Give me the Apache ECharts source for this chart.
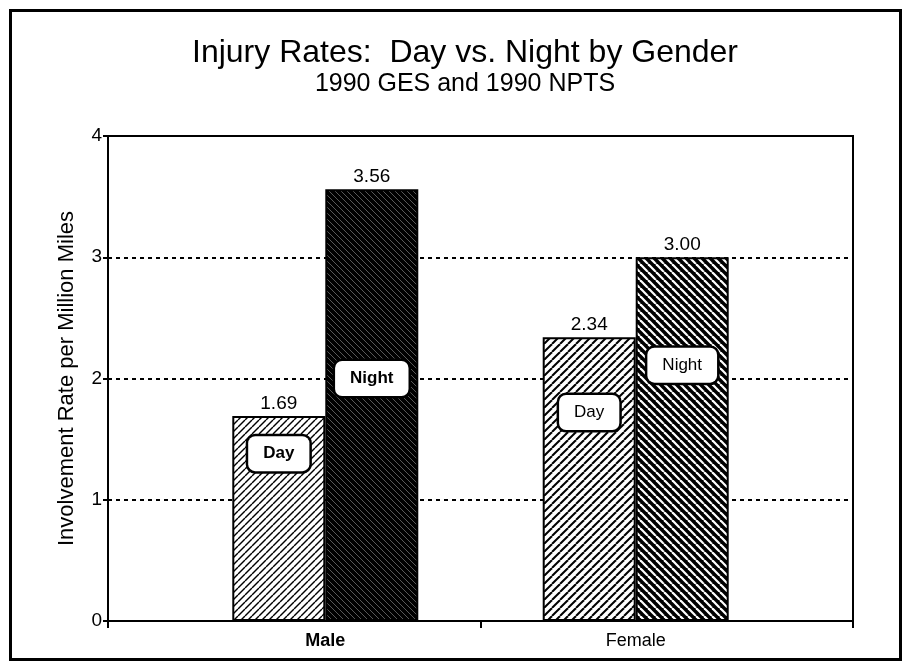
<!DOCTYPE html>
<html>
<head>
<meta charset="utf-8">
<title>Injury Rates: Day vs. Night by Gender</title>
<script src="https://cdn.jsdelivr.net/npm/echarts@6/dist/echarts.min.js"></script>
<style>
  html, body { margin: 0; padding: 0; background: #fff; }
  #frame { position: absolute; left: 9px; top: 9px; width: 887px; height: 646px; border: 3px solid #000; }
  #chart { position: absolute; left: 0; top: 0; width: 904px; height: 664px; }
</style>
</head>
<body>
<div id="frame"></div>
<div id="chart"></div>
<script>
// data
const categories = ['Male', 'Female'];
const dayRates = [1.69, 2.34];
const nightRates = [3.56, 3.00];
const boxLabels = ['Day', 'Night'];

// where the little boxed labels sit (in y units)
const dayBoxY = [1.38, 1.72];
const nightBoxY = [2.0, 2.11];

// diagonal hatch fills, like the old printout
function hatch(bg, fg, size, lineW, dir) {
  const c = document.createElement('canvas');
  c.width = size; c.height = size;
  const g = c.getContext('2d');
  g.fillStyle = bg;
  g.fillRect(0, 0, size, size);
  g.strokeStyle = fg;
  g.lineWidth = lineW;
  for (let k = -1; k <= 1; k++) {
    g.beginPath();
    if (dir === '/') {
      g.moveTo(k * size, size); g.lineTo(k * size + size, 0);
    } else {
      g.moveTo(k * size, 0); g.lineTo(k * size + size, size);
    }
    g.stroke();
  }
  return { image: c, repeat: 'repeat' };
}

const dayFills = [hatch('#fff', '#000', 7, 1.4, '/'), hatch('#fff', '#000', 8, 2, '/')];
const nightFills = [hatch('#000', '#6e6e6e', 6, 0.8, '\\'), hatch('#000', '#fff', 8, 2.2, '\\')];

const boxLabel = {
  show: true,
  position: 'inside',
  color: '#000',
  fontSize: 17,
  backgroundColor: '#fff',
  borderColor: '#000',
  borderWidth: 2.5,
  borderRadius: 7,
  padding: [9, 15]
};

function makeBoxes(name, ys) {
  return {
    symbol: 'rect',
    symbolSize: 1,
    itemStyle: { color: 'rgba(0,0,0,0)' },
    label: Object.assign({}, boxLabel, { formatter: name }),
    data: ys.map((y, i) => ({
      coord: [i + 1, y],
      label: { fontWeight: i === 0 ? 'bold' : 'normal' }
    }))
  };
}

const valueLabel = {
  show: true,
  position: 'top',
  distance: 3,
  fontSize: 19,
  color: '#000',
  formatter: p => p.value[1].toFixed(2)
};

const chart = echarts.init(document.getElementById('chart'));
chart.setOption({
  animation: false,
  textStyle: { fontFamily: 'Liberation Sans, Arial, sans-serif' },
  title: {
    text: 'Injury Rates:  Day vs. Night by Gender',
    subtext: '1990 GES and 1990 NPTS',
    left: 460,
    top: 32,
    textAlign: 'center',
    itemGap: 3,
    textStyle: { fontSize: 32, fontWeight: 'normal', color: '#000' },
    subtextStyle: { fontSize: 25, color: '#000' }
  },
  grid: {
    left: 108, right: 51, top: 136, bottom: 43,
    show: true, borderColor: '#000', borderWidth: 2
  },
  xAxis: {
    type: 'value',
    min: 0.3,
    max: 2.7,
    splitLine: { show: false },
    axisLine: { lineStyle: { color: '#000', width: 2 } },
    axisTick: { customValues: [0.3, 1.5, 2.7], length: 7, lineStyle: { color: '#000', width: 2 } },
    axisLabel: {
      customValues: [1, 2],
      formatter: v => (v === 1 ? '{b|' + categories[0] + '}' : categories[v - 1]),
      fontSize: 18,
      color: '#000',
      margin: 11,
      rich: { b: { fontSize: 18, fontWeight: 'bold', color: '#000' } }
    }
  },
  yAxis: {
    type: 'value',
    min: 0,
    max: 4,
    interval: 1,
    name: 'Involvement Rate per Million Miles',
    nameLocation: 'middle',
    nameGap: 30,
    nameTextStyle: { fontSize: 22, color: '#000' },
    axisLine: { show: true, lineStyle: { color: '#000', width: 2 } },
    axisTick: { show: true, length: 5, lineStyle: { color: '#000', width: 2 } },
    axisLabel: { fontSize: 19, color: '#000', margin: 6 },
    splitLine: { lineStyle: { color: '#000', width: 2, type: [4, 4] } }
  },
  series: [
    {
      name: boxLabels[0],
      type: 'bar',
      barWidth: 93,
      barGap: 0,
      data: dayRates.map((v, i) => ({ value: [i + 1, v], itemStyle: { color: dayFills[i] } })),
      itemStyle: { borderColor: '#000', borderWidth: 2 },
      label: valueLabel,
      markPoint: makeBoxes(boxLabels[0], dayBoxY)
    },
    {
      name: boxLabels[1],
      type: 'bar',
      barWidth: 93,
      barGap: 0,
      data: nightRates.map((v, i) => ({ value: [i + 1, v], itemStyle: { color: nightFills[i] } })),
      itemStyle: { borderColor: '#000', borderWidth: 2 },
      label: valueLabel,
      markPoint: makeBoxes(boxLabels[1], nightBoxY)
    }
  ]
});
</script>
</body>
</html>
